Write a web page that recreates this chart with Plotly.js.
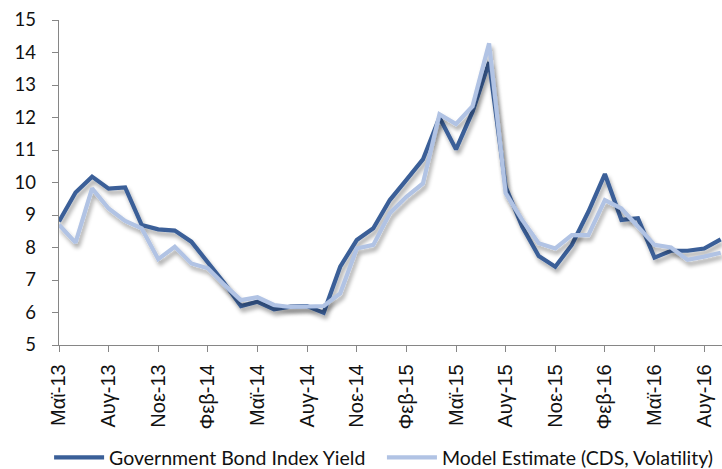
<!DOCTYPE html>
<html>
<head>
<meta charset="utf-8">
<script src="https://cdn.plot.ly/plotly-3.0.1.min.js"></script>
<style>
html,body{margin:0;padding:0;background:#fff;}
#chart{width:722px;height:469px;}
</style>
</head>
<body>
<div id="chart"></div>
<svg width="0" height="0" style="position:absolute">
  <defs>
    <filter id="shadow" x="-10%" y="-10%" width="130%" height="140%">
      <feGaussianBlur in="SourceAlpha" stdDeviation="2.2"/>
      <feOffset dx="2" dy="4" result="ob"/>
      <feComponentTransfer><feFuncA type="linear" slope="0.35"/></feComponentTransfer>
      <feMerge><feMergeNode/><feMergeNode in="SourceGraphic"/></feMerge>
    </filter>
  </defs>
</svg>
<script>
const months = ["Μαϊ-13","Ιουν-13","Ιουλ-13","Αυγ-13","Σεπ-13","Οκτ-13","Νοε-13","Δεκ-13",
  "Ιαν-14","Φεβ-14","Μαρ-14","Απρ-14","Μαϊ-14","Ιουν-14","Ιουλ-14","Αυγ-14","Σεπ-14","Οκτ-14","Νοε-14","Δεκ-14",
  "Ιαν-15","Φεβ-15","Μαρ-15","Απρ-15","Μαϊ-15","Ιουν-15","Ιουλ-15","Αυγ-15","Σεπ-15","Οκτ-15","Νοε-15","Δεκ-15",
  "Ιαν-16","Φεβ-16","Μαρ-16","Απρ-16","Μαϊ-16","Ιουν-16","Ιουλ-16","Αυγ-16","Σεπ-16"];
const bondYield = [8.80,9.69,10.18,9.81,9.85,8.69,8.56,8.52,8.18,7.56,6.90,6.20,6.33,6.10,6.18,6.20,5.99,7.41,8.23,8.59,
  9.46,10.08,10.71,12.00,11.02,12.18,13.70,9.87,8.64,7.74,7.41,8.08,9.10,10.26,8.85,8.90,7.69,7.90,7.90,7.97,8.25];
const modelEstimate = [8.70,8.15,9.82,9.20,8.82,8.59,7.64,8.02,7.51,7.36,6.85,6.38,6.47,6.23,6.17,6.17,6.20,6.59,7.97,8.08,
  9.05,9.56,9.97,12.10,11.80,12.35,14.28,9.67,8.85,8.13,7.97,8.38,8.38,9.46,9.20,8.64,8.08,8.00,7.62,7.72,7.84];
const tickLabels = ["Μαϊ-13","Αυγ-13","Νοε-13","Φεβ-14","Μαϊ-14","Αυγ-14","Νοε-14","Φεβ-15","Μαϊ-15","Αυγ-15","Νοε-15","Φεβ-16","Μαϊ-16","Αυγ-16"];

const idx = months.map((m,i)=>i);
const tickVals = tickLabels.map(t => months.indexOf(t));

const traces = [
  {x: idx, y: bondYield, type:'scatter', mode:'lines', name:'Government Bond Index Yield',
   line:{color:'#3a5f98', width:4.2}, cliponaxis:true, legend:'legend'},
  {x: idx, y: modelEstimate, type:'scatter', mode:'lines', name:'Model Estimate (CDS, Volatility)',
   line:{color:'#b1c3e4', width:4.2}, cliponaxis:true, legend:'legend2'}
];

const legendBase = {orientation:'h', xref:'container', yref:'container', y:0.024, xanchor:'left', yanchor:'middle',
                    font:{size:19.5, color:'#111'}, itemwidth:50, bgcolor:'rgba(0,0,0,0)'};

const layout = {
  width:722, height:469,
  margin:{l:59, r:0, t:20, b:124},
  paper_bgcolor:'#fff', plot_bgcolor:'#fff',
  font:{family:'Lato, "Open Sans", sans-serif', size:18.5, color:'#111'},
  showlegend:true,
  legend:Object.assign({}, legendBase, {x:0.068}),
  legend2:Object.assign({}, legendBase, {x:0.529}),
  xaxis:{range:[0, 40.08], tickmode:'array', tickvals:tickVals, ticktext:tickLabels, tickangle:-90,
         showgrid:false, zeroline:false, showline:true, linecolor:'#868686', linewidth:1.3,
         ticks:'outside', ticklen:6, tickcolor:'#868686', ticklabelstandoff:4,
         tickfont:{family:'"Liberation Sans", Arial, sans-serif', size:20, color:'#111'}},
  yaxis:{range:[5,15], tickmode:'linear', tick0:5, dtick:1, showgrid:false, zeroline:false,
         showline:true, linecolor:'#868686', linewidth:1.3, ticks:'outside', ticklen:6, tickcolor:'#868686',
         ticklabelstandoff:12, tickfont:{size:18.5, color:'#111'}}
};

Plotly.newPlot('chart', traces, layout, {displayModeBar:false, staticPlot:true}).then(gd => {
  document.querySelectorAll('.scatterlayer .trace').forEach(t => t.setAttribute('filter','url(#shadow)'));
});
</script>
</body>
</html>
